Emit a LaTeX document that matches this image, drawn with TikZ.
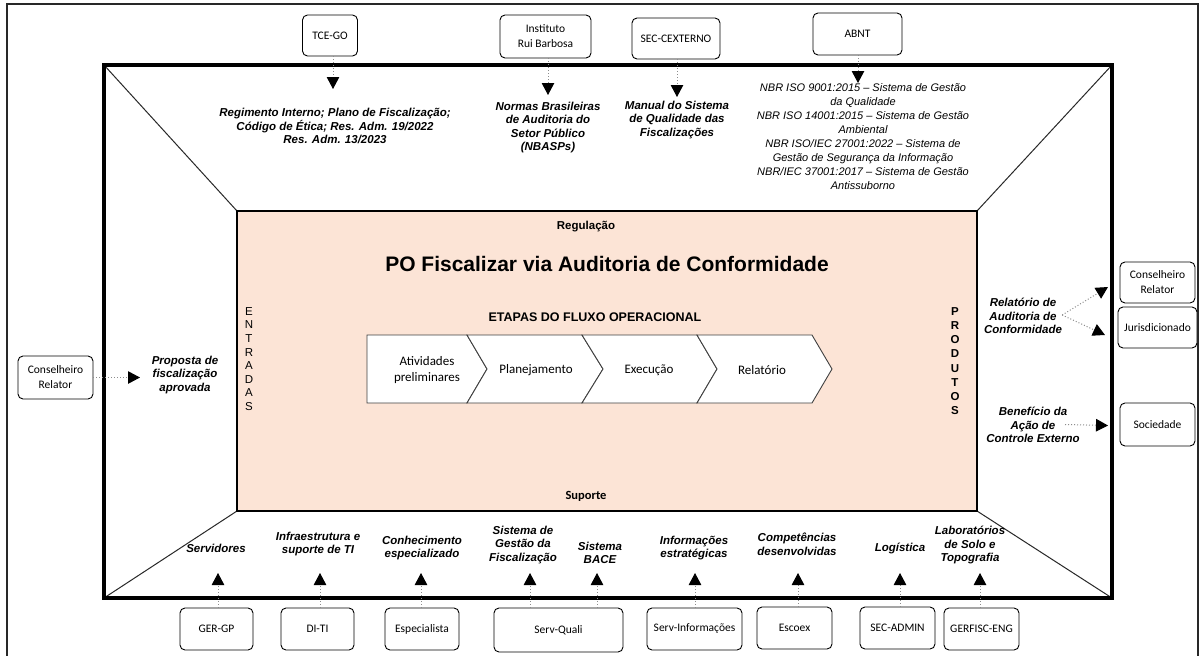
\documentclass[tikz,border=0pt]{standalone}
\usepackage{fontspec}
\setmainfont{Liberation Sans}
\newfontfamily\calfnt{Carlito}
\usetikzlibrary{arrows.meta}
\definecolor{peach}{RGB}{252,228,214}
\definecolor{dotgray}{RGB}{140,140,140}
\definecolor{framegray}{RGB}{40,40,40}
\newcommand\lblfnt{\fontsize{11.5}{13.6}\selectfont\bfseries\itshape}
\newcommand\nbrfnt{\fontsize{11}{13.9}\selectfont\itshape}
\newcommand\boxfnt{\calfnt\fontsize{11.5}{15}\selectfont}
\newcommand\chevfnt{\calfnt\fontsize{13}{15.5}\selectfont}
\tikzset{
  src/.style={draw, rounded corners=5pt, line width=0.9pt, font=\boxfnt, align=center, inner sep=0pt, fill=white},
  lbl/.style={font=\lblfnt, align=center, inner sep=0pt},
  arr/.style={draw=dotgray, dotted, line width=1pt, -{Triangle[length=12pt,width=12.5pt,black]}},
  chev/.style={draw=black!75, fill=white, line width=0.9pt},
  chevtxt/.style={font=\chevfnt, align=center, inner sep=0pt},
}
\begin{document}
\begin{tikzpicture}[x=1pt,y=-1pt]
\useasboundingbox (0,0) rectangle (1203,656);
\fill[white] (0,0) rectangle (1203,656);
% outer frame
\draw[framegray, line width=2pt] (7,658) -- (7,4) -- (1198,4) -- (1198,658);
% diagonals
\draw[framegray, line width=1pt] (104,65) -- (237,211);
\draw[framegray, line width=1pt] (1112,65) -- (977,211);
\draw[framegray, line width=1pt] (104,598) -- (237,511);
\draw[framegray, line width=1pt] (1112,598) -- (977,511);
% thick frame
\draw[black, line width=3.5pt] (104,65) rectangle (1112,598);
% central box
\draw[black, line width=2pt, fill=peach] (237,211) rectangle (977,511);

% central texts
\node[font=\fontsize{11.5}{13}\selectfont\bfseries] (regl) at (586,227) {Regulação};
\node[font=\fontsize{21}{24}\selectfont\bfseries] (title) at (607,264) {PO Fiscalizar via Auditoria de Conformidade};
\node[font=\fontsize{12.5}{14}\selectfont\bfseries] (etapas) at (595,317) {ETAPAS DO FLUXO OPERACIONAL};
\node[font=\calfnt\fontsize{12.5}{14}\selectfont\bfseries] (sup) at (586,496) {Suporte};
\node[font=\fontsize{11.5}{13.6}\selectfont, align=center, inner sep=0pt] (ent) at (249,359) {E\\N\\T\\R\\A\\D\\A\\S};
\node[font=\fontsize{11.5}{14.2}\selectfont\bfseries, align=center, inner sep=0pt] (prod) at (955,361) {P\\R\\O\\D\\U\\T\\O\\S};

% chevrons
\draw[chev] (367,335) -- (467,335) -- (487,369) -- (467,403) -- (367,403) -- cycle;
\draw[chev] (467,335) -- (582,335) -- (603,369) -- (582,403) -- (467,403) -- (487,369) -- cycle;
\draw[chev] (582,335) -- (697,335) -- (717,369) -- (697,403) -- (582,403) -- (603,369) -- cycle;
\draw[chev] (697,335) -- (812,335) -- (832,369) -- (812,403) -- (697,403) -- (717,369) -- cycle;
\node[chevtxt] (c1) at (427,370) {Atividades\\preliminares};
\node[chevtxt] (c2) at (536,370) {Planejamento};
\node[chevtxt] (c3) at (649,370) {Execução};
\node[chevtxt] (c4) at (762,370) {Relatório};

% top sources
\node[src, minimum width=55pt, minimum height=41pt] (tce) at (330,35.5) {TCE-GO};
\node[src, minimum width=91pt, minimum height=43pt] (irb) at (545.5,36.5) {Instituto\\Rui Barbosa};
\node[src, minimum width=88pt, minimum height=41pt] (secx) at (676,38.5) {SEC-CEXTERNO};
\node[src, minimum width=89pt, minimum height=42pt] (abnt) at (857.5,34) {ABNT};

\node[lbl] (regt) at (335,126) {Regimento Interno; Plano de Fiscalização;\\Código de Ética; Res. Adm. 19/2022\\Res. Adm. 13/2023};
\node[lbl] (nbasp) at (548,127.5) {Normas Brasileiras\\de Auditoria do\\Setor Público\\(NBASPs)};
\node[lbl] (manual) at (677,120) {Manual do Sistema\\de Qualidade das\\Fiscalizações};
\node[font=\nbrfnt, align=center, inner sep=0pt] (nbr) at (863,136.5) {NBR ISO 9001:2015 – Sistema de Gestão\\da Qualidade\\NBR ISO 14001:2015 – Sistema de Gestão\\Ambiental\\NBR ISO/IEC 27001:2022 – Sistema de\\Gestão de Segurança da Informação\\NBR/IEC 37001:2017 – Sistema de Gestão\\Antissuborno};

\coordinate (tTCE) at (333,89);
\coordinate (tIRB) at (548,95);
\coordinate (tSEC) at (677,97);
\coordinate (tABNT) at (858,83);
\draw[arr] (tce.south -| tTCE) -- (tTCE);
\draw[arr] (irb.south -| tIRB) -- (tIRB);
\draw[arr] (secx.south -| tSEC) -- (tSEC);
\draw[arr] (abnt.south -| tABNT) -- (tABNT);

% left
\node[src, minimum width=75pt, minimum height=43pt] (cr1) at (55.5,377.5) {Conselheiro\\Relator};
\node[lbl] (prop) at (185,375) {Proposta de\\fiscalização\\aprovada};
\coordinate (tProp) at (140,377.5);
\draw[arr] (cr1.east) -- (tProp);

% right
\node[src, minimum width=75pt, minimum height=41pt] (cr2) at (1157.5,282.5) {Conselheiro\\Relator};
\node[src, minimum width=79pt, minimum height=41pt] (jur) at (1157.5,327.5) {Jurisdicionado};
\node[src, minimum width=75pt, minimum height=43pt] (soc) at (1157.5,424.5) {Sociedade};
\node[lbl] (relat) at (1023,316) {Relatório de\\Auditoria de\\Conformidade};
\node[lbl] (benef) at (1033,425) {Benefício da\\Ação de\\Controle Externo};
\coordinate (tCR2) at (1108,287);
\coordinate (tJUR) at (1105,335);
\coordinate (tSOC) at (1108,425.5);
\draw[arr] ([yshift=1pt]relat.east) -- (tCR2);
\draw[arr] ([yshift=1pt]relat.east) -- (tJUR);
\draw[arr] ([xshift=32pt,yshift=0.5pt]benef.center) -- (tSOC);

% bottom sources
\node[src, minimum width=73pt, minimum height=42pt] (gergp) at (216.5,629) {GER-GP};
\node[src, minimum width=73pt, minimum height=42pt] (diti) at (317.5,629) {DI-TI};
\node[src, minimum width=74pt, minimum height=42pt] (esp) at (422,629) {Especialista};
\node[src, minimum width=129pt, minimum height=44pt] (servq) at (558.5,630) {Serv-Quali};
\node[src, minimum width=95pt, minimum height=42pt] (servi) at (694.5,629) {Serv-Informações};
\node[src, minimum width=75pt, minimum height=42pt] (escoex) at (794.5,628) {Escoex};
\node[src, minimum width=75pt, minimum height=42pt] (secadm) at (897.5,628) {SEC-ADMIN};
\node[src, minimum width=75pt, minimum height=42pt] (gerf) at (981.5,629) {GERFISC-ENG};

\node[lbl] (srv) at (216,548) {Servidores};
\node[lbl] (infra) at (318,544) {Infraestrutura e\\suporte de TI};
\node[lbl] (conh) at (422,548) {Conhecimento\\especializado};
\node[lbl] (sgf) at (523,545) {Sistema de\\Gestão da\\Fiscalização};
\node[lbl] (bace) at (600,553) {Sistema\\BACE};
\node[lbl] (info) at (694,548) {Informações\\estratégicas};
\node[lbl] (comp) at (797,544) {Competências\\desenvolvidas};
\node[lbl] (logi) at (900,548) {Logística};
\node[lbl] (lab) at (970,545) {Laboratórios\\de Solo e\\Topografia};

\coordinate (bSrv) at (218,573);
\coordinate (bInf) at (320,573);
\coordinate (bCon) at (421,573);
\coordinate (bSgf) at (530,573);
\coordinate (bBac) at (597,573);
\coordinate (bInfo) at (695,573);
\coordinate (bComp) at (798,573);
\coordinate (bLog) at (900,573);
\coordinate (bLab) at (980,573);
\draw[arr] (gergp.north -| bSrv) -- (bSrv);
\draw[arr] (diti.north -| bInf) -- (bInf);
\draw[arr] (esp.north -| bCon) -- (bCon);
\draw[arr] (servq.north -| bSgf) -- (bSgf);
\draw[arr] (servq.north -| bBac) -- (bBac);
\draw[arr] (servi.north -| bInfo) -- (bInfo);
\draw[arr] (escoex.north -| bComp) -- (bComp);
\draw[arr] (secadm.north -| bLog) -- (bLog);
\draw[arr] (gerf.north -| bLab) -- (bLab);
\end{tikzpicture}
\end{document}
